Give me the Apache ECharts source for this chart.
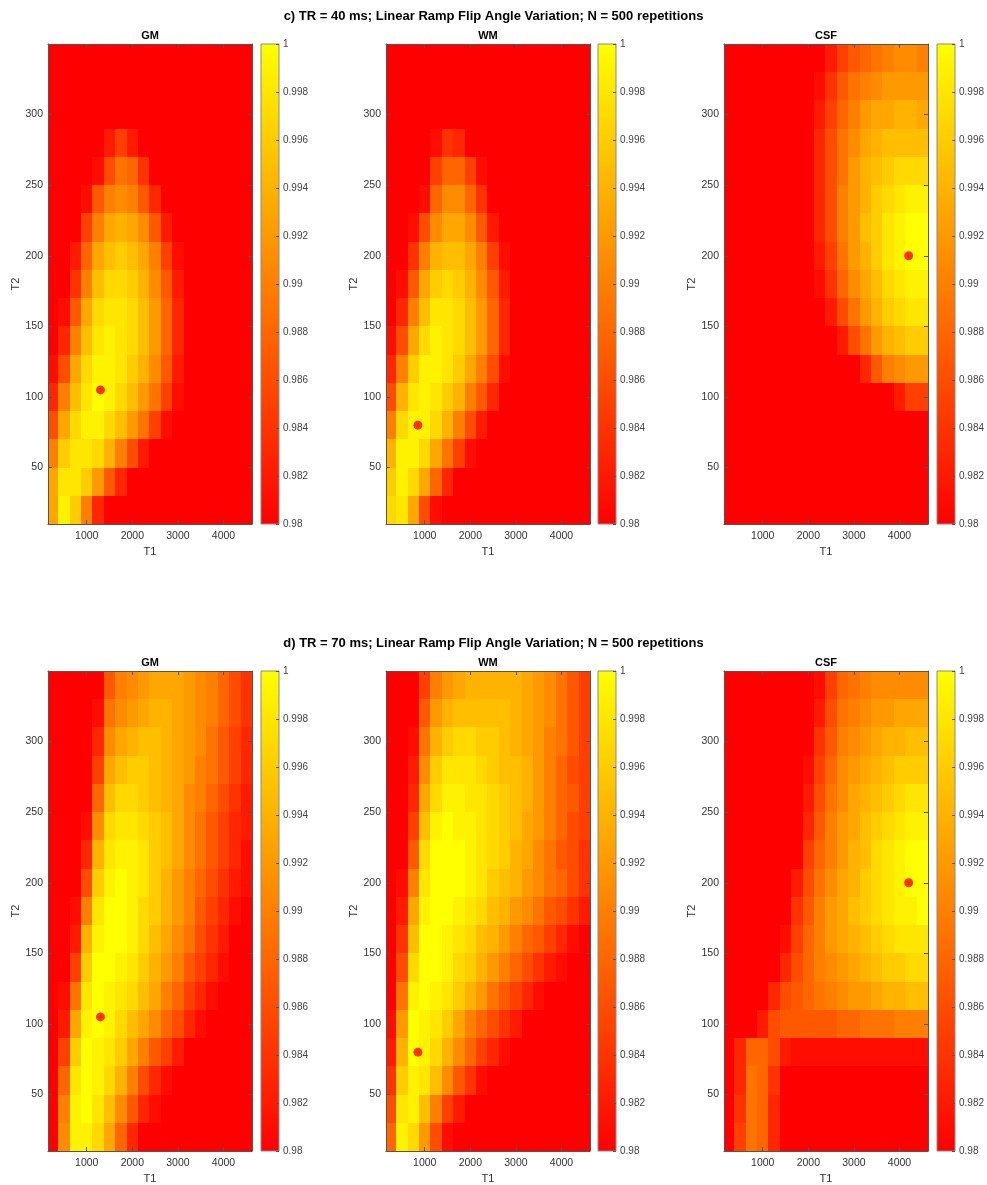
<!DOCTYPE html>
<html>
<head>
<meta charset="utf-8">
<title>Linear Ramp Flip Angle Variation</title>
<script src="https://cdn.jsdelivr.net/npm/echarts@6/dist/echarts.min.js"></script>
<style>
  html, body { margin: 0; padding: 0; background: #fff; }
  #chart { width: 987px; height: 1185px; }
</style>
</head>
<body>
<div id="chart"></div>
<script>
// cell centres of the sampled maps (T1 across, T2 rows from top to bottom)
var T1_CENTERS = [250, 500, 750, 1000, 1250, 1500, 1750, 2000, 2250, 2500, 2750, 3000, 3250, 3500, 3750, 4000, 4250, 4500];
var T2_CENTERS = [340, 320, 300, 280, 260, 240, 220, 200, 180, 160, 140, 120, 100, 80, 60, 40, 20];
var T1_TICKS = [1000, 2000, 3000, 4000];
var T2_TICKS = [50, 100, 150, 200, 250, 300];
var T1_RANGE = [150, 4625];
var T2_RANGE = [10, 350];
var CBAR_RANGE = [0.98, 1];

// tissue reference points (T1, T2)
var GM_MARK = [1300, 105];
var WM_MARK = [850, 80];
var CSF_MARK = [4200, 200];

var TITLE_40 = 'c) TR = 40 ms; Linear Ramp Flip Angle Variation; N = 500 repetitions';
var TITLE_70 = 'd) TR = 70 ms; Linear Ramp Flip Angle Variation; N = 500 repetitions';

// TR = 40 ms
var GM_40 = [
  [0.98,0.98,0.98,0.98,0.98,0.98,0.98,0.98,0.98,0.98,0.98,0.98,0.98,0.98,0.98,0.98,0.98,0.98],
  [0.98,0.98,0.98,0.98,0.98,0.98,0.98,0.98,0.98,0.98,0.98,0.98,0.98,0.98,0.98,0.98,0.98,0.98],
  [0.98,0.98,0.98,0.98,0.98,0.98,0.98,0.98,0.98,0.98,0.98,0.98,0.98,0.98,0.98,0.98,0.98,0.98],
  [0.98,0.98,0.98,0.98,0.98,0.982,0.985,0.982,0.98,0.98,0.98,0.98,0.98,0.98,0.98,0.98,0.98,0.98],
  [0.98,0.98,0.98,0.98,0.981,0.986,0.989,0.988,0.984,0.98,0.98,0.98,0.98,0.98,0.98,0.98,0.98,0.98],
  [0.98,0.98,0.98,0.981,0.987,0.99,0.991,0.99,0.987,0.983,0.98,0.98,0.98,0.98,0.98,0.98,0.98,0.98],
  [0.98,0.98,0.98,0.985,0.99,0.993,0.994,0.993,0.991,0.987,0.982,0.98,0.98,0.98,0.98,0.98,0.98,0.98],
  [0.98,0.98,0.982,0.988,0.993,0.995,0.996,0.995,0.993,0.99,0.985,0.981,0.98,0.98,0.98,0.98,0.98,0.98],
  [0.98,0.98,0.984,0.99,0.995,0.997,0.997,0.996,0.994,0.991,0.987,0.982,0.98,0.98,0.98,0.98,0.98,0.98],
  [0.98,0.981,0.987,0.993,0.997,0.998,0.998,0.997,0.995,0.992,0.988,0.983,0.98,0.98,0.98,0.98,0.98,0.98],
  [0.98,0.983,0.99,0.995,0.998,0.999,0.998,0.997,0.995,0.992,0.988,0.983,0.98,0.98,0.98,0.98,0.98,0.98],
  [0.981,0.986,0.993,0.997,0.999,0.999,0.998,0.996,0.994,0.991,0.987,0.982,0.98,0.98,0.98,0.98,0.98,0.98],
  [0.983,0.99,0.995,0.998,1,0.999,0.997,0.995,0.992,0.989,0.985,0.981,0.98,0.98,0.98,0.98,0.98,0.98],
  [0.986,0.993,0.997,0.999,0.999,0.997,0.995,0.992,0.989,0.985,0.981,0.98,0.98,0.98,0.98,0.98,0.98,0.98],
  [0.99,0.996,0.998,0.998,0.997,0.994,0.99,0.986,0.982,0.98,0.98,0.98,0.98,0.98,0.98,0.98,0.98,0.98],
  [0.993,0.998,0.998,0.996,0.992,0.987,0.983,0.98,0.98,0.98,0.98,0.98,0.98,0.98,0.98,0.98,0.98,0.98],
  [0.993,0.999,0.996,0.99,0.983,0.98,0.98,0.98,0.98,0.98,0.98,0.98,0.98,0.98,0.98,0.98,0.98,0.98]
];
var WM_40 = [
  [0.98,0.98,0.98,0.98,0.98,0.98,0.98,0.98,0.98,0.98,0.98,0.98,0.98,0.98,0.98,0.98,0.98,0.98],
  [0.98,0.98,0.98,0.98,0.98,0.98,0.98,0.98,0.98,0.98,0.98,0.98,0.98,0.98,0.98,0.98,0.98,0.98],
  [0.98,0.98,0.98,0.98,0.98,0.98,0.98,0.98,0.98,0.98,0.98,0.98,0.98,0.98,0.98,0.98,0.98,0.98],
  [0.98,0.98,0.98,0.98,0.981,0.984,0.983,0.98,0.98,0.98,0.98,0.98,0.98,0.98,0.98,0.98,0.98,0.98],
  [0.98,0.98,0.98,0.98,0.985,0.988,0.988,0.985,0.981,0.98,0.98,0.98,0.98,0.98,0.98,0.98,0.98,0.98],
  [0.98,0.98,0.98,0.981,0.988,0.991,0.991,0.988,0.984,0.98,0.98,0.98,0.98,0.98,0.98,0.98,0.98,0.98],
  [0.98,0.98,0.981,0.986,0.991,0.993,0.993,0.991,0.987,0.982,0.98,0.98,0.98,0.98,0.98,0.98,0.98,0.98],
  [0.98,0.98,0.984,0.99,0.994,0.995,0.995,0.993,0.99,0.985,0.981,0.98,0.98,0.98,0.98,0.98,0.98,0.98],
  [0.98,0.981,0.987,0.993,0.996,0.997,0.996,0.994,0.991,0.987,0.982,0.98,0.98,0.98,0.98,0.98,0.98,0.98],
  [0.98,0.983,0.99,0.995,0.998,0.998,0.997,0.995,0.992,0.988,0.983,0.98,0.98,0.98,0.98,0.98,0.98,0.98],
  [0.981,0.986,0.993,0.997,0.999,0.998,0.997,0.995,0.992,0.988,0.983,0.98,0.98,0.98,0.98,0.98,0.98,0.98],
  [0.983,0.99,0.996,0.999,0.999,0.998,0.996,0.993,0.99,0.986,0.981,0.98,0.98,0.98,0.98,0.98,0.98,0.98],
  [0.986,0.994,0.998,0.999,0.998,0.996,0.994,0.99,0.987,0.983,0.98,0.98,0.98,0.98,0.98,0.98,0.98,0.98],
  [0.99,0.997,0.999,0.999,0.997,0.994,0.99,0.986,0.982,0.98,0.98,0.98,0.98,0.98,0.98,0.98,0.98,0.98],
  [0.994,0.999,0.999,0.997,0.993,0.989,0.985,0.981,0.98,0.98,0.98,0.98,0.98,0.98,0.98,0.98,0.98,0.98],
  [0.996,0.999,0.997,0.993,0.988,0.983,0.98,0.98,0.98,0.98,0.98,0.98,0.98,0.98,0.98,0.98,0.98,0.98],
  [0.997,0.998,0.993,0.986,0.981,0.98,0.98,0.98,0.98,0.98,0.98,0.98,0.98,0.98,0.98,0.98,0.98,0.98]
];
var CSF_40 = [
  [0.98,0.98,0.98,0.98,0.98,0.98,0.98,0.98,0.98,0.982,0.985,0.987,0.988,0.989,0.99,0.991,0.991,0.99],
  [0.98,0.98,0.98,0.98,0.98,0.98,0.98,0.98,0.981,0.984,0.987,0.989,0.99,0.991,0.992,0.992,0.992,0.992],
  [0.98,0.98,0.98,0.98,0.98,0.98,0.98,0.98,0.982,0.985,0.988,0.99,0.992,0.993,0.993,0.994,0.994,0.993],
  [0.98,0.98,0.98,0.98,0.98,0.98,0.98,0.98,0.983,0.986,0.989,0.991,0.993,0.994,0.995,0.995,0.995,0.995],
  [0.98,0.98,0.98,0.98,0.98,0.98,0.98,0.98,0.983,0.986,0.989,0.992,0.994,0.995,0.996,0.997,0.997,0.997],
  [0.98,0.98,0.98,0.98,0.98,0.98,0.98,0.98,0.983,0.986,0.99,0.992,0.994,0.996,0.997,0.998,0.999,0.999],
  [0.98,0.98,0.98,0.98,0.98,0.98,0.98,0.98,0.983,0.986,0.99,0.992,0.995,0.996,0.998,0.999,1,1],
  [0.98,0.98,0.98,0.98,0.98,0.98,0.98,0.98,0.982,0.985,0.989,0.992,0.994,0.996,0.998,0.999,1,1],
  [0.98,0.98,0.98,0.98,0.98,0.98,0.98,0.98,0.981,0.984,0.988,0.991,0.993,0.995,0.997,0.998,0.999,0.999],
  [0.98,0.98,0.98,0.98,0.98,0.98,0.98,0.98,0.98,0.982,0.986,0.989,0.992,0.994,0.996,0.997,0.998,0.998],
  [0.98,0.98,0.98,0.98,0.98,0.98,0.98,0.98,0.98,0.98,0.982,0.986,0.989,0.992,0.994,0.995,0.996,0.996],
  [0.98,0.98,0.98,0.98,0.98,0.98,0.98,0.98,0.98,0.98,0.98,0.98,0.983,0.987,0.99,0.991,0.992,0.992],
  [0.98,0.98,0.98,0.98,0.98,0.98,0.98,0.98,0.98,0.98,0.98,0.98,0.98,0.98,0.98,0.982,0.985,0.985],
  [0.98,0.98,0.98,0.98,0.98,0.98,0.98,0.98,0.98,0.98,0.98,0.98,0.98,0.98,0.98,0.98,0.98,0.98],
  [0.98,0.98,0.98,0.98,0.98,0.98,0.98,0.98,0.98,0.98,0.98,0.98,0.98,0.98,0.98,0.98,0.98,0.98],
  [0.98,0.98,0.98,0.98,0.98,0.98,0.98,0.98,0.98,0.98,0.98,0.98,0.98,0.98,0.98,0.98,0.98,0.98],
  [0.98,0.98,0.98,0.98,0.98,0.98,0.98,0.98,0.98,0.98,0.98,0.98,0.98,0.98,0.98,0.98,0.98,0.98]
];

// TR = 70 ms
var GM_70 = [
  [0.98,0.98,0.98,0.98,0.98,0.987,0.99,0.991,0.992,0.993,0.993,0.993,0.992,0.991,0.99,0.988,0.986,0.984],
  [0.98,0.98,0.98,0.98,0.981,0.989,0.991,0.992,0.993,0.994,0.994,0.993,0.992,0.991,0.99,0.988,0.986,0.984],
  [0.98,0.98,0.98,0.98,0.983,0.991,0.993,0.994,0.995,0.995,0.994,0.993,0.992,0.991,0.989,0.987,0.985,0.983],
  [0.98,0.98,0.98,0.98,0.985,0.993,0.995,0.996,0.996,0.995,0.994,0.993,0.992,0.99,0.989,0.987,0.985,0.983],
  [0.98,0.98,0.98,0.98,0.988,0.995,0.997,0.997,0.996,0.995,0.994,0.993,0.991,0.99,0.988,0.986,0.984,0.982],
  [0.98,0.98,0.98,0.981,0.991,0.997,0.998,0.998,0.997,0.996,0.995,0.993,0.991,0.989,0.987,0.985,0.983,0.982],
  [0.98,0.98,0.98,0.983,0.994,0.998,0.999,0.999,0.998,0.996,0.995,0.993,0.991,0.989,0.987,0.985,0.983,0.981],
  [0.98,0.98,0.98,0.986,0.996,0.999,1,0.999,0.998,0.996,0.994,0.992,0.99,0.988,0.986,0.984,0.982,0.981],
  [0.98,0.98,0.981,0.99,0.998,1,1,0.999,0.997,0.996,0.994,0.992,0.99,0.987,0.985,0.983,0.981,0.98],
  [0.98,0.98,0.982,0.994,0.999,1,1,0.999,0.997,0.995,0.993,0.991,0.989,0.986,0.984,0.982,0.98,0.98],
  [0.98,0.98,0.985,0.996,1,1,0.999,0.998,0.996,0.994,0.992,0.99,0.987,0.985,0.983,0.981,0.98,0.98],
  [0.98,0.981,0.989,0.998,1,0.999,0.998,0.997,0.995,0.993,0.99,0.988,0.985,0.983,0.981,0.98,0.98,0.98],
  [0.98,0.982,0.993,0.999,1,0.999,0.997,0.995,0.993,0.991,0.988,0.986,0.983,0.981,0.98,0.98,0.98,0.98],
  [0.98,0.985,0.996,1,0.999,0.998,0.996,0.993,0.99,0.987,0.985,0.982,0.98,0.98,0.98,0.98,0.98,0.98],
  [0.98,0.988,0.998,1,0.999,0.997,0.994,0.99,0.986,0.983,0.981,0.98,0.98,0.98,0.98,0.98,0.98,0.98],
  [0.98,0.99,0.999,1,0.998,0.995,0.991,0.987,0.983,0.981,0.98,0.98,0.98,0.98,0.98,0.98,0.98,0.98],
  [0.98,0.991,0.999,0.999,0.997,0.993,0.988,0.983,0.98,0.98,0.98,0.98,0.98,0.98,0.98,0.98,0.98,0.98]
];
var WM_70 = [
  [0.98,0.98,0.98,0.985,0.99,0.992,0.993,0.994,0.994,0.994,0.994,0.994,0.993,0.992,0.991,0.989,0.987,0.985],
  [0.98,0.98,0.98,0.987,0.992,0.994,0.995,0.995,0.995,0.995,0.995,0.994,0.993,0.992,0.991,0.989,0.987,0.985],
  [0.98,0.98,0.981,0.989,0.994,0.996,0.997,0.997,0.996,0.996,0.995,0.994,0.993,0.992,0.99,0.989,0.987,0.985],
  [0.98,0.98,0.982,0.991,0.996,0.998,0.998,0.998,0.997,0.996,0.995,0.995,0.994,0.992,0.99,0.988,0.986,0.985],
  [0.98,0.98,0.983,0.993,0.997,0.999,0.999,0.998,0.998,0.997,0.996,0.995,0.994,0.992,0.99,0.988,0.987,0.985],
  [0.98,0.98,0.985,0.995,0.999,1,0.999,0.999,0.998,0.997,0.996,0.995,0.993,0.992,0.99,0.988,0.986,0.985],
  [0.98,0.98,0.987,0.997,1,1,1,0.999,0.998,0.997,0.996,0.994,0.993,0.991,0.989,0.987,0.986,0.984],
  [0.98,0.981,0.99,0.998,1,1,1,0.999,0.998,0.996,0.995,0.994,0.992,0.991,0.989,0.988,0.986,0.984],
  [0.98,0.982,0.993,0.999,1,1,0.999,0.998,0.997,0.995,0.994,0.992,0.991,0.989,0.987,0.986,0.984,0.982],
  [0.98,0.984,0.995,1,1,0.999,0.998,0.997,0.995,0.994,0.992,0.99,0.988,0.987,0.985,0.983,0.981,0.98],
  [0.98,0.986,0.997,1,1,0.999,0.997,0.996,0.994,0.992,0.99,0.988,0.986,0.984,0.982,0.981,0.98,0.98],
  [0.98,0.989,0.999,1,0.999,0.998,0.996,0.994,0.992,0.989,0.987,0.985,0.983,0.981,0.98,0.98,0.98,0.98],
  [0.981,0.992,1,0.999,0.998,0.996,0.993,0.99,0.988,0.986,0.984,0.982,0.98,0.98,0.98,0.98,0.98,0.98],
  [0.982,0.994,1,0.999,0.997,0.994,0.991,0.988,0.985,0.983,0.981,0.98,0.98,0.98,0.98,0.98,0.98,0.98],
  [0.984,0.996,0.999,0.998,0.995,0.991,0.987,0.984,0.981,0.98,0.98,0.98,0.98,0.98,0.98,0.98,0.98,0.98],
  [0.986,0.998,0.999,0.995,0.99,0.985,0.982,0.98,0.98,0.98,0.98,0.98,0.98,0.98,0.98,0.98,0.98,0.98],
  [0.988,0.999,0.997,0.992,0.986,0.981,0.98,0.98,0.98,0.98,0.98,0.98,0.98,0.98,0.98,0.98,0.98,0.98]
];
var CSF_70 = [
  [0.98,0.98,0.98,0.98,0.98,0.98,0.98,0.98,0.981,0.985,0.988,0.989,0.99,0.991,0.991,0.991,0.991,0.991],
  [0.98,0.98,0.98,0.98,0.98,0.98,0.98,0.98,0.982,0.986,0.989,0.99,0.991,0.992,0.992,0.993,0.993,0.993],
  [0.98,0.98,0.98,0.98,0.98,0.98,0.98,0.98,0.984,0.987,0.99,0.991,0.992,0.993,0.994,0.994,0.995,0.995],
  [0.98,0.98,0.98,0.98,0.98,0.98,0.98,0.981,0.985,0.988,0.991,0.992,0.993,0.994,0.995,0.996,0.996,0.996],
  [0.98,0.98,0.98,0.98,0.98,0.98,0.98,0.982,0.986,0.989,0.991,0.993,0.994,0.995,0.996,0.997,0.998,0.998],
  [0.98,0.98,0.98,0.98,0.98,0.98,0.98,0.983,0.987,0.99,0.992,0.993,0.995,0.996,0.997,0.998,0.999,0.999],
  [0.98,0.98,0.98,0.98,0.98,0.98,0.98,0.985,0.988,0.99,0.992,0.994,0.995,0.997,0.998,0.999,1,1],
  [0.98,0.98,0.98,0.98,0.98,0.98,0.982,0.986,0.989,0.991,0.993,0.994,0.996,0.997,0.998,0.999,1,1],
  [0.98,0.98,0.98,0.98,0.98,0.98,0.984,0.987,0.99,0.992,0.993,0.995,0.996,0.997,0.998,0.999,0.999,1],
  [0.98,0.98,0.98,0.98,0.98,0.981,0.985,0.988,0.99,0.992,0.993,0.994,0.995,0.996,0.997,0.998,0.998,0.998],
  [0.98,0.98,0.98,0.98,0.98,0.983,0.986,0.988,0.99,0.991,0.992,0.993,0.994,0.995,0.996,0.996,0.997,0.997],
  [0.98,0.98,0.98,0.98,0.983,0.986,0.987,0.988,0.989,0.99,0.991,0.992,0.992,0.993,0.994,0.994,0.995,0.995],
  [0.98,0.98,0.98,0.982,0.986,0.987,0.987,0.987,0.987,0.987,0.988,0.988,0.989,0.989,0.989,0.99,0.99,0.99],
  [0.98,0.983,0.988,0.988,0.986,0.982,0.981,0.981,0.981,0.981,0.981,0.981,0.981,0.981,0.981,0.981,0.981,0.981],
  [0.98,0.983,0.989,0.988,0.984,0.98,0.98,0.98,0.98,0.98,0.98,0.98,0.98,0.98,0.98,0.98,0.98,0.98],
  [0.98,0.984,0.989,0.988,0.983,0.98,0.98,0.98,0.98,0.98,0.98,0.98,0.98,0.98,0.98,0.98,0.98,0.98],
  [0.98,0.985,0.989,0.988,0.983,0.98,0.98,0.98,0.98,0.98,0.98,0.98,0.98,0.98,0.98,0.98,0.98,0.98]
];

var FONT = 'Liberation Sans, Arial, Helvetica, sans-serif';
var AXIS_COLOR = '#555';
var LABEL_COLOR = '#333';

var panels = [
  { title: 'GM',  table: GM_40,  mark: GM_MARK,  left: 48,  top: 44,  bar: 261 },
  { title: 'WM',  table: WM_40,  mark: WM_MARK,  left: 386, top: 44,  bar: 598 },
  { title: 'CSF', table: CSF_40, mark: CSF_MARK, left: 724, top: 44,  bar: 937 },
  { title: 'GM',  table: GM_70,  mark: GM_MARK,  left: 48,  top: 671, bar: 261 },
  { title: 'WM',  table: WM_70,  mark: WM_MARK,  left: 386, top: 671, bar: 598 },
  { title: 'CSF', table: CSF_70, mark: CSF_MARK, left: 724, top: 671, bar: 937 }
];

var halfW = (T1_CENTERS[1] - T1_CENTERS[0]) / 2;
var halfH = (T2_CENTERS[0] - T2_CENTERS[1]) / 2;

function toCells(table) {
  var out = [];
  table.forEach(function (row, i) {
    row.forEach(function (v, j) {
      out.push([T1_CENTERS[j], T2_CENTERS[i], v]);
    });
  });
  return out;
}

function renderCell(params, api) {
  var x = api.value(0), y = api.value(1);
  var a = api.coord([x - halfW, y + halfH]);
  var b = api.coord([x + halfW, y - halfH]);
  // snap to whole pixels so neighbouring cells meet without seams
  var x0 = Math.round(a[0]), y0 = Math.round(a[1]);
  var x1 = Math.round(b[0]), y1 = Math.round(b[1]);
  var cs = params.coordSys;
  var shape = echarts.graphic.clipRectByRect(
    { x: x0, y: y0, width: x1 - x0, height: y1 - y0 },
    { x: cs.x, y: cs.y, width: cs.width, height: cs.height }
  );
  return shape && { type: 'rect', shape: shape, style: { fill: api.visual('color') } };
}

function renderBar(params, api) {
  var a = api.coord([0, api.value(1)]);
  var b = api.coord([1, api.value(0)]);
  return {
    type: 'rect',
    shape: { x: a[0], y: a[1], width: b[0] - a[0], height: b[1] - a[1] },
    style: {
      fill: new echarts.graphic.LinearGradient(0, 1, 0, 0, [
        { offset: 0, color: '#ff0000' },
        { offset: 1, color: '#ffff00' }
      ]),
      stroke: '#8a8a8a',
      lineWidth: 1
    }
  };
}

function plain(v) { return String(v); }

var grids = [], xAxes = [], yAxes = [], series = [], heatIdx = [];
var lineStyle = { color: AXIS_COLOR, width: 1 };

panels.forEach(function (p) {
  var g = grids.length;
  grids.push({ left: p.left, top: p.top, width: 204, height: 480, outerBoundsMode: 'none' });
  grids.push({ left: p.bar, top: p.top, width: 18, height: 480, outerBoundsMode: 'none' });

  var xi = xAxes.length, yi = yAxes.length;
  // bottom + top x axes (box with inside ticks)
  xAxes.push({
    gridIndex: g, type: 'value', min: T1_RANGE[0], max: T1_RANGE[1], z: 10,
    name: 'T1', nameLocation: 'middle', nameGap: 22,
    nameTextStyle: { fontSize: 11, color: LABEL_COLOR, fontFamily: FONT },
    axisLine: { show: true, onZero: false, lineStyle: lineStyle },
    axisTick: { show: true, inside: true, length: 4, customValues: T1_TICKS, lineStyle: lineStyle },
    axisLabel: { customValues: T1_TICKS, margin: 7, fontSize: 10.5, color: LABEL_COLOR, fontFamily: FONT, formatter: plain },
    splitLine: { show: false }
  });
  xAxes.push({
    gridIndex: g, type: 'value', position: 'top', min: T1_RANGE[0], max: T1_RANGE[1], z: 10,
    name: p.title, nameLocation: 'middle', nameGap: 3,
    nameTextStyle: { fontSize: 11, fontWeight: 'bold', color: '#000', fontFamily: FONT },
    axisLine: { show: true, onZero: false, lineStyle: lineStyle },
    axisTick: { show: true, inside: true, length: 4, customValues: T1_TICKS, lineStyle: lineStyle },
    axisLabel: { show: false },
    splitLine: { show: false }
  });
  // colorbar x axis (hidden)
  xAxes.push({ gridIndex: g + 1, type: 'value', min: 0, max: 1, show: false });

  yAxes.push({
    gridIndex: g, type: 'value', min: T2_RANGE[0], max: T2_RANGE[1], z: 10,
    name: 'T2', nameLocation: 'middle', nameGap: 27,
    nameTextStyle: { fontSize: 11, color: LABEL_COLOR, fontFamily: FONT },
    axisLine: { show: true, onZero: false, lineStyle: lineStyle },
    axisTick: { show: true, inside: true, length: 4, customValues: T2_TICKS, lineStyle: lineStyle },
    axisLabel: { customValues: T2_TICKS, margin: 5, fontSize: 10.5, color: LABEL_COLOR, fontFamily: FONT, formatter: plain },
    splitLine: { show: false }
  });
  yAxes.push({
    gridIndex: g, type: 'value', position: 'right', min: T2_RANGE[0], max: T2_RANGE[1], z: 10,
    axisLine: { show: true, onZero: false, lineStyle: lineStyle },
    axisTick: { show: true, inside: true, length: 4, customValues: T2_TICKS, lineStyle: lineStyle },
    axisLabel: { show: false },
    splitLine: { show: false }
  });
  yAxes.push({
    gridIndex: g + 1, type: 'value', position: 'right', min: CBAR_RANGE[0], max: CBAR_RANGE[1], interval: 0.002, z: 10,
    axisLine: { show: false, onZero: false },
    axisTick: { show: true, inside: true, length: 3, lineStyle: lineStyle },
    axisLabel: {
      margin: 4, fontSize: 10, color: '#444', fontFamily: FONT,
      formatter: function (v) { return String(+v.toFixed(3)); }
    },
    splitLine: { show: false }
  });

  heatIdx.push(series.length);
  series.push({
    type: 'custom', xAxisIndex: xi, yAxisIndex: yi, silent: true,
    renderItem: renderCell, data: toCells(p.table)
  });
  series.push({
    type: 'scatter', xAxisIndex: xi, yAxisIndex: yi, z: 3, silent: true,
    symbolSize: 9, itemStyle: { color: '#ff0000' }, data: [p.mark]
  });
  series.push({
    type: 'custom', xAxisIndex: xi + 2, yAxisIndex: yi + 2, silent: true,
    renderItem: renderBar, data: [CBAR_RANGE]
  });
});

var chart = echarts.init(document.getElementById('chart'), null, { renderer: 'canvas' });
chart.setOption({
  animation: false,
  backgroundColor: '#fff',
  title: [
    { text: TITLE_40, left: 'center', top: 10, padding: 0,
      textStyle: { fontSize: 13, fontWeight: 'bold', color: '#000', fontFamily: FONT } },
    { text: TITLE_70, left: 'center', top: 637, padding: 0,
      textStyle: { fontSize: 13, fontWeight: 'bold', color: '#000', fontFamily: FONT } }
  ],
  visualMap: {
    type: 'continuous', show: false, dimension: 2, seriesIndex: heatIdx,
    min: CBAR_RANGE[0], max: CBAR_RANGE[1],
    inRange: { color: ['#ff0000', '#ffff00'] }
  },
  grid: grids,
  xAxis: xAxes,
  yAxis: yAxes,
  series: series
});
</script>
</body>
</html>
